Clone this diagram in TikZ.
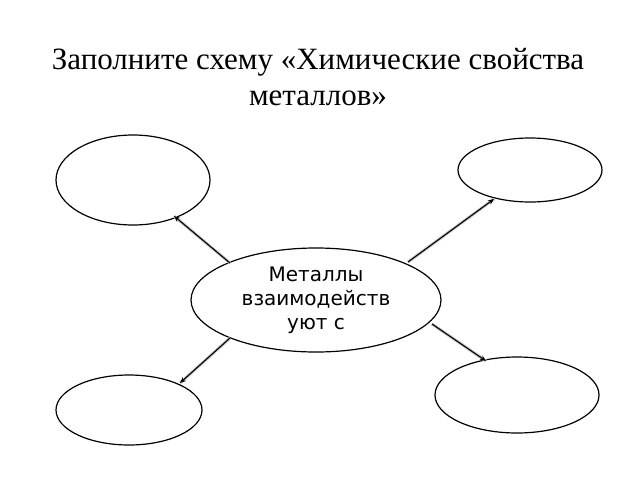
\documentclass[tikz,border=0pt]{standalone}
\usepackage{fontspec}
\setmainfont{Liberation Serif}
\newfontfamily\dvs{DejaVu Sans}
\usetikzlibrary{shapes.geometric,arrows.meta}
\begin{document}
\begin{tikzpicture}[x=1pt,y=-1pt,
  ell/.style={draw,ellipse,line width=1.2pt,inner sep=0pt},
  conn/.style={line width=1.1pt,-{Stealth[length=6pt,width=5pt,open]},
    preaction={draw=gray!45,line width=3pt,-}}]
\useasboundingbox (0,0) rectangle (640,480);
\node (t1) at (318,62) {\fontsize{31}{36}\selectfont Заполните схему «Химические свойства};
\node (t2) at (318,98) {\fontsize{31}{36}\selectfont металлов»};
\node[ell,minimum width=154pt,minimum height=90pt] (tl) at (133,180) {};
\node[ell,minimum width=144pt,minimum height=64pt] (tr) at (530,170) {};
\node[ell,minimum width=146pt,minimum height=70pt] (bl) at (129,410) {};
\node[ell,minimum width=164pt,minimum height=76pt] (br) at (517,395) {};
\node[ell,minimum width=250pt,minimum height=104pt,align=center,font=\dvs\fontsize{20}{24}\selectfont] (c) at (316,300) {Металлы\\взаимодейств\\уют с};
\coordinate (a1) at (230,263); \coordinate (b1) at (174,216);
\coordinate (a2) at (408,262); \coordinate (b2) at (494,199);
\coordinate (a3) at (230,338); \coordinate (b3) at (180,383);
\coordinate (a4) at (432,324); \coordinate (b4) at (486,361);
\draw[conn] (a1) -- (b1);
\draw[conn] (a2) -- (b2);
\draw[conn] (a3) -- (b3);
\draw[conn] (a4) -- (b4);
\end{tikzpicture}
\end{document}
